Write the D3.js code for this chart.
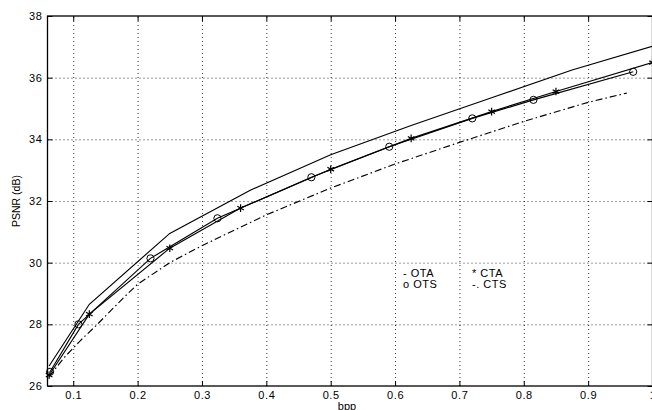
<!DOCTYPE html>
<html>
<head>
<meta charset="utf-8">
<script src="https://cdn.jsdelivr.net/npm/d3@7"></script>
<style>
body { margin: 0; background: #fff; }
svg { display: block; font-family: "Liberation Sans", Arial, sans-serif; }
.grid line { stroke: #000; stroke-width: 0.8; stroke-dasharray: 1,3; }
.grid .domain { display: none; }
.ax .domain { display: none; }
.ax line { stroke: #000; stroke-width: 1; }
.ax text { font-size: 11px; letter-spacing: 0.6px; fill: #000; }
</style>
</head>
<body>
<svg></svg>
<script>
// curves (bpp, PSNR dB)
const otaBpp = [0.0625, 0.125, 0.25, 0.375, 0.5, 0.625, 0.75, 0.875, 1.0]
const otaPsnr = [26.65, 28.65, 30.95, 32.35, 33.5, 34.45, 35.35, 36.25, 37.02]

const otsBpp = [0.064, 0.108, 0.22, 0.324, 0.47, 0.591, 0.72, 0.815, 0.97]
const otsPsnr = [26.46, 28.0, 30.14, 31.44, 32.77, 33.76, 34.68, 35.28, 36.19]

const ctaBpp = [0.0625, 0.125, 0.25, 0.36, 0.5, 0.625, 0.75, 0.85, 1.0]
const ctaPsnr = [26.35, 28.33, 30.47, 31.77, 33.03, 34.03, 34.9, 35.55, 36.49]

const ctsBpp = [0.0625, 0.085, 0.11, 0.135, 0.18, 0.2, 0.25, 0.3, 0.4, 0.5, 0.6, 0.7, 0.8, 0.9, 0.96]
const ctsPsnr = [26.3, 26.9, 27.45, 27.95, 28.9, 29.3, 30.0, 30.55, 31.55, 32.42, 33.2, 33.9, 34.58, 35.2, 35.5]

const xTicks = [0.1, 0.2, 0.3, 0.4, 0.5, 0.6, 0.7, 0.8, 0.9, 1]
const yTicks = [26, 28, 30, 32, 34, 36, 38]
const legendText = ['- OTA', '* CTA', 'o OTS', '-. CTS']

let w = 652, h = 410
let L = 47.5, R = 652.5, T = 16, B = 386

let scX = d3.scaleLinear().domain([0.06, 1]).range([L, R])
let scY = d3.scaleLinear().domain([26, 38]).range([B, T])

let svg = d3.select('svg')
	.attr('width', w)
	.attr('height', h)

// dotted grid
svg.append('g').attr('class', 'grid')
	.attr('transform', `translate(0, ${B})`)
	.call(d3.axisBottom(scX).tickValues(xTicks.filter(d => d < 1)).tickSize(-(B - T)).tickFormat(''))
svg.append('g').attr('class', 'grid')
	.attr('transform', `translate(${L}, 0)`)
	.call(d3.axisLeft(scY).tickValues(yTicks.slice(1, -1)).tickSize(-(R - L)).tickFormat(''))

// ticks inside on all four sides
svg.append('g').attr('class', 'ax')
	.attr('transform', `translate(0, ${B})`)
	.call(d3.axisBottom(scX).tickValues(xTicks).tickSizeInner(-5).tickSizeOuter(0).tickPadding(5)
		.tickFormat(d => d === 1 ? '1' : d.toFixed(1)))
svg.append('g').attr('class', 'ax')
	.attr('transform', `translate(0, ${T})`)
	.call(d3.axisTop(scX).tickValues(xTicks).tickSizeInner(-5).tickSizeOuter(0).tickFormat(''))
svg.append('g').attr('class', 'ax')
	.attr('transform', `translate(${L}, 0)`)
	.call(d3.axisLeft(scY).tickValues(yTicks).tickSizeInner(-5).tickSizeOuter(0).tickPadding(5))
svg.append('g').attr('class', 'ax')
	.attr('transform', `translate(${R}, 0)`)
	.call(d3.axisRight(scY).tickValues(yTicks).tickSizeInner(-5).tickSizeOuter(0).tickFormat(''))

svg.append('rect')
	.attr('x', L).attr('y', T)
	.attr('width', R - L).attr('height', B - T)
	.attr('fill', 'none').attr('stroke', '#000').attr('stroke-width', 1.3)

const line = d3.line().x(d => scX(d[0])).y(d => scY(d[1]))
const pairs = (xs, ys) => xs.map((x, i) => [x, ys[i]])

const series = [
	{ pts: pairs(ctsBpp, ctsPsnr), dash: '7,3,1.5,3' },
	{ pts: pairs(otaBpp, otaPsnr), dash: null },
	{ pts: pairs(otsBpp, otsPsnr), dash: null },
	{ pts: pairs(ctaBpp, ctaPsnr), dash: null }
]

svg.append('g').selectAll('path')
	.data(series).enter().append('path')
	.attr('d', d => line(d.pts))
	.attr('fill', 'none')
	.attr('stroke', '#000')
	.attr('stroke-width', 1.15)
	.attr('stroke-dasharray', d => d.dash)

svg.append('g').selectAll('circle')
	.data(pairs(otsBpp, otsPsnr)).enter().append('circle')
	.attr('cx', d => scX(d[0]))
	.attr('cy', d => scY(d[1]))
	.attr('r', 3.6)
	.attr('fill', 'none')
	.attr('stroke', '#000')
	.attr('stroke-width', 1)

svg.append('g').selectAll('path')
	.data(pairs(ctaBpp, ctaPsnr)).enter().append('path')
	.attr('transform', d => `translate(${scX(d[0])}, ${scY(d[1])})`)
	.attr('d', d3.symbol(d3.symbolAsterisk, 40))
	.attr('fill', 'none')
	.attr('stroke', '#000')
	.attr('stroke-width', 1.2)

// legend (text annotations in the figure)
svg.append('g').selectAll('text')
	.data(legendText).enter().append('text')
	.attr('x', (d, i) => i % 2 === 0 ? 403 : 472)
	.attr('y', (d, i) => i < 2 ? 276.5 : 288)
	.attr('font-size', 11)
	.attr('letter-spacing', 0.5)
	.text(d => d)

svg.append('text')
	.attr('x', 347).attr('y', 410)
	.attr('text-anchor', 'middle')
	.attr('font-size', 11)
	.text('bpp')

svg.append('text')
	.attr('transform', 'translate(19.5, 201) rotate(-90)')
	.attr('text-anchor', 'middle')
	.attr('font-size', 10.5)
	.text('PSNR (dB)')
</script>
</body>
</html>
